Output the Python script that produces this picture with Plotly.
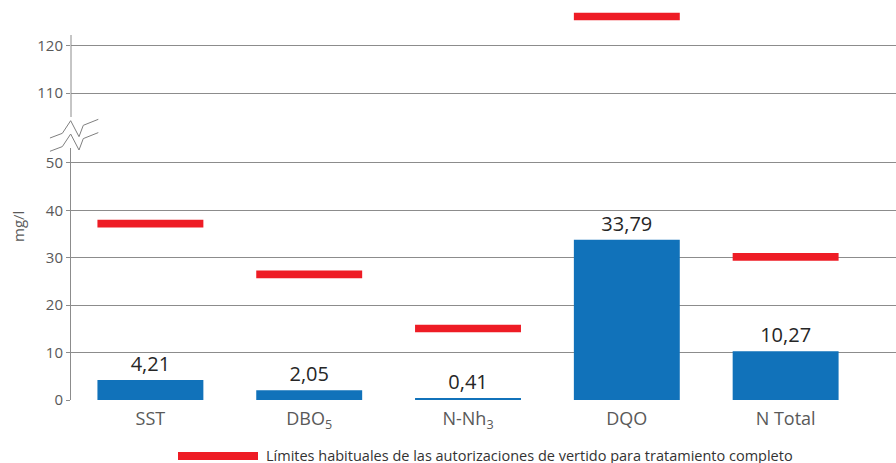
import plotly.graph_objects as go
from plotly.subplots import make_subplots

categories = ["SST", "DBO<sub>5</sub>", "N-Nh<sub>3</sub>", "DQO", "N Total"]
values = [4.21, 2.05, 0.41, 33.79, 10.27]
limits = [37.2, 26.5, 15.1, 126.2, 30.2]
legend_label = "Límites habituales de las autorizaciones de vertido para tratamiento completo"

BLUE = "#1172BA"
RED = "#EE1C25"
GRID = "#8c8c8c"
TXT = "#595959"
FONT = "Open Sans"

# plot area is 825 x 400 px starting at x=71, y=0
W, H, L = 825, 400, 71
px = lambda x: (x - L) / W
py = lambda y: (H - y) / H

fig = make_subplots(rows=2, cols=1, shared_xaxes=True, vertical_spacing=0)

labels = [f"{v:.2f}".replace(".", ",") for v in values]
fig.add_trace(go.Bar(
    x=categories, y=values, width=0.667, marker=dict(color=BLUE, line=dict(width=0)),
    text=labels, textposition="outside",
    textfont=dict(size=20, color="#262626", family=FONT),
    cliponaxis=False, showlegend=False, hoverinfo="skip"
), row=2, col=1)

# limit markers as thin bars, shown in both parts of the broken axis
thick = 1.6
for r in (1, 2):
    fig.add_trace(go.Bar(
        x=categories, y=[thick] * len(limits), base=[v - thick / 2 for v in limits],
        width=0.667, marker=dict(color=RED, line=dict(width=0)),
        showlegend=False, hoverinfo="skip"
    ), row=r, col=1)

fig.update_layout(
    width=896, height=463,
    margin=dict(l=L, r=0, t=0, b=63),
    barmode="overlay",
    paper_bgcolor="white", plot_bgcolor="white",
    font=dict(family=FONT, color=TXT),
    yaxis=dict(domain=[py(117), 1], range=[104.94, 129.7], tickvals=[110, 120],
               showgrid=True, gridcolor=GRID, gridwidth=1, zeroline=False,
               ticks="outside", ticklen=4, tickcolor=GRID,
               tickfont=dict(size=15, color=TXT), showline=False),
    yaxis2=dict(domain=[0, py(148)], range=[0, 53.16], tickvals=[0, 10, 20, 30, 40, 50],
                showgrid=True, gridcolor=GRID, gridwidth=1, zeroline=False,
                ticks="outside", ticklen=4, tickcolor=GRID,
                tickfont=dict(size=15, color=TXT),
                showline=True, linecolor=GRID, linewidth=1),
    xaxis=dict(range=[-0.5, 4.695], showgrid=False, showticklabels=False, showline=False),
    xaxis2=dict(range=[-0.5, 4.695], showgrid=False, showline=False, ticks="",
                ticklabelstandoff=6, tickfont=dict(size=18, color=TXT)),
)

shapes = []
# upper axis line segment
shapes.append(dict(type="line", xref="paper", yref="paper", x0=0, x1=0,
                   y0=py(117), y1=py(35), line=dict(color=GRID, width=1)))
# axis break zigzags
zz = [(50, 138), (62.3, 133.3), (70.7, 120.7), (79, 136.7), (83.3, 125.3), (98.3, 119.3)]
for dy in (0, 13.3):
    path = "M " + " L ".join(f"{px(x):.4f},{py(y + dy):.4f}" for x, y in zz)
    shapes.append(dict(type="path", xref="paper", yref="paper", path=path,
                       line=dict(color="#7f7f7f", width=1)))
# legend sample
shapes.append(dict(type="rect", xref="paper", yref="paper", x0=px(178), x1=px(258),
                   y0=py(460), y1=py(452), fillcolor=RED, line=dict(width=0)))
fig.update_layout(shapes=shapes)

fig.add_annotation(text=legend_label, xref="paper", yref="paper", x=px(265), y=py(455),
                   xanchor="left", yanchor="middle", showarrow=False, borderpad=0,
                   font=dict(size=14.5, color="#333333", family=FONT))
fig.add_annotation(text="mg/l", xref="paper", yref="paper", x=px(18), y=py(227),
                   xanchor="center", yanchor="middle", textangle=-90, showarrow=False,
                   font=dict(size=15, color=TXT, family=FONT))

fig.write_html("out.html", config={"displayModeBar": False},
               post_script="document.body.style.margin='0';")
